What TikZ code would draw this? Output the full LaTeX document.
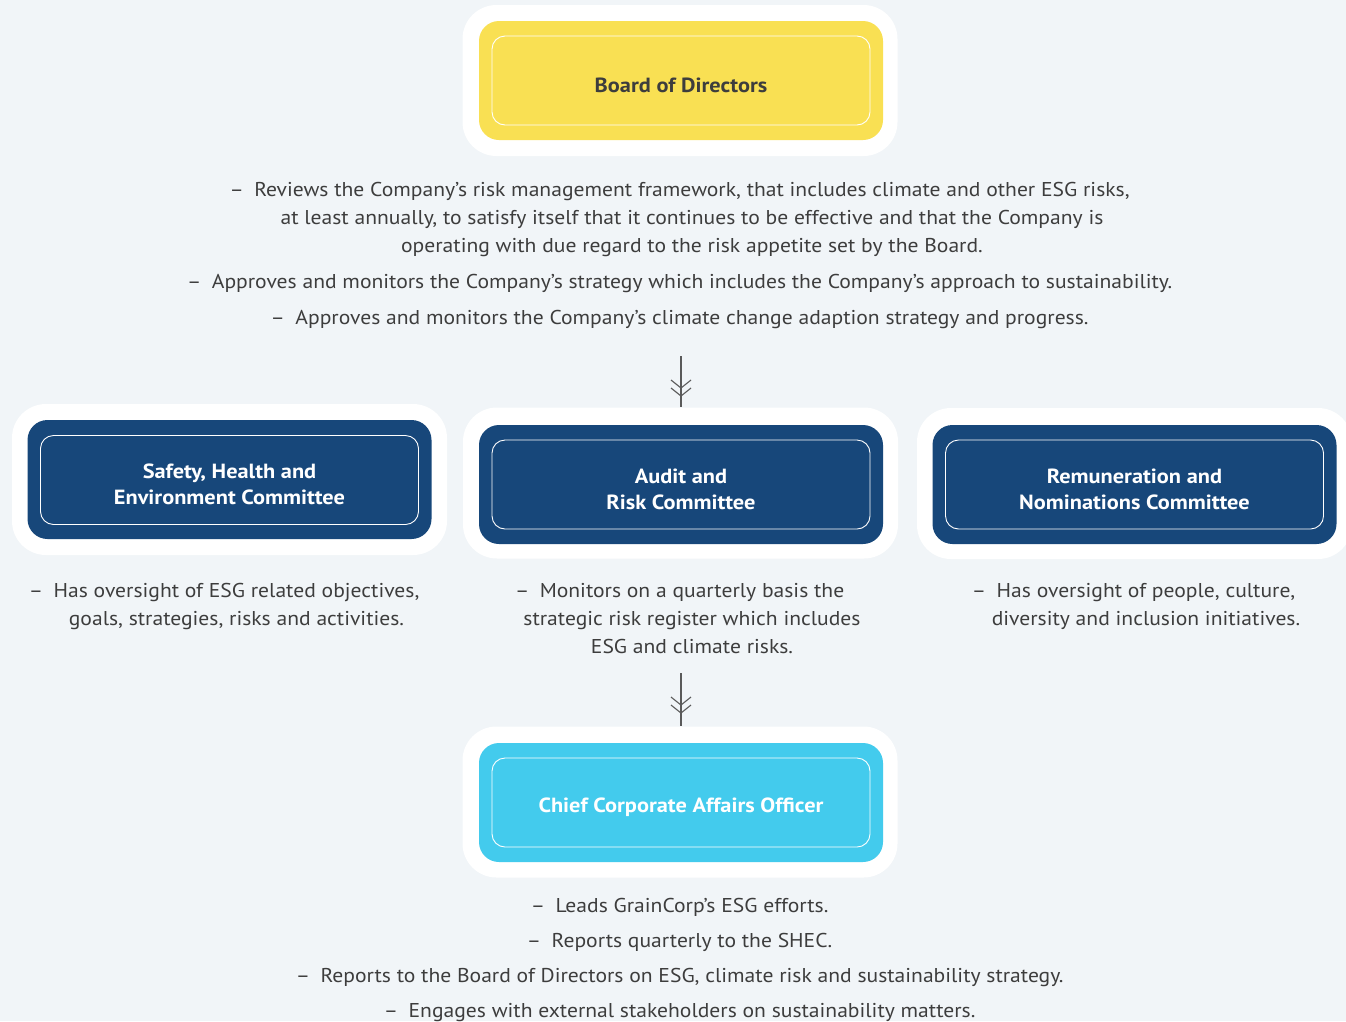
\documentclass[tikz,border=0pt]{standalone}
\usepackage{fontspec}
\setmainfont{PT Sans}[FakeStretch=1.08]
\newfontfamily\lblfont{PT Sans}[FakeStretch=1.09]
\definecolor{bgc}{HTML}{F1F5F8}
\definecolor{ylw}{HTML}{F9E053}
\definecolor{navy}{HTML}{17477A}
\definecolor{cyanb}{HTML}{43CBED}
\definecolor{txtc}{HTML}{3D3D3D}
\definecolor{linec}{HTML}{5A5A5A}
\newcommand{\dashlbl}{\llap{–\hspace{10.5pt}}}
\begin{document}
\begin{tikzpicture}[x=1pt,y=-1pt,
  frame/.style={fill=white, rounded corners=34pt, minimum width=435pt, minimum height=151pt, inner sep=0pt},
  boxfill/.style={rounded corners=20pt, minimum width=404pt, minimum height=119pt, inner sep=0pt},
  inner/.style={draw=white, line width=0.9pt, rounded corners=13pt, minimum width=378pt, minimum height=89pt, inner sep=0pt},
  lbl/.style={inner sep=0pt, align=center, font=\lblfont\bfseries\fontsize{20.5}{26}\selectfont},
  txt/.style={anchor=base, inner sep=0pt, text=txtc, font=\fontsize{20}{28}\selectfont},
  conn/.style={draw=linec, line width=1.2pt},
  chev/.style={draw=linec, line width=1.1pt}
]
\useasboundingbox (0,0) rectangle (1346,1021);
\fill[bgc] (0,0) rectangle (1346,1021);

% Board of Directors
\node[frame] (boardF) at (680,80.5) {};
\node[boxfill, fill=ylw] (board) at (681,80.5) {};
\node[inner] (boardIn) at (681,80.5) {};
\node[lbl, text=txtc] (boardL) at (681,85) {Board of Directors};

% Committees
\node[frame] (shecF) at (229.5,479.5) {};
\node[boxfill, fill=navy] (shec) at (229.5,479.5) {};
\node[inner] (shecIn) at (229.5,480) {};
\node[lbl, text=white] (shecL) at (229.5,484.5) {Safety, Health and\\Environment Committee};

\node[frame] (arcF) at (680.5,483) {};
\node[boxfill, fill=navy] (arc) at (681,484.5) {};
\node[inner] (arcIn) at (681,484.5) {};
\node[lbl, text=white] (arcL) at (681,489) {Audit and\\Risk Committee};

\node[frame] (rncF) at (1134.5,483.5) {};
\node[boxfill, fill=navy] (rnc) at (1134.5,484.5) {};
\node[inner] (rncIn) at (1134.5,484.5) {};
\node[lbl, text=white] (rncL) at (1134.5,489) {Remuneration and\\Nominations Committee};

% CCAO
\node[frame] (ccaoF) at (680,802) {};
\node[boxfill, fill=cyanb] (ccao) at (681,802.5) {};
\node[inner] (ccaoIn) at (681,802.5) {};
\node[lbl, text=white] (ccaoL) at (681,807) {Chief Corporate Affairs Officer};

% Board text
\node[txt] (b1) at (692,196) {\dashlbl Reviews the Company’s risk management framework, that includes climate and other ESG risks,};
\node[txt] (b2) at (692,224) {at least annually, to satisfy itself that it continues to be effective and that the Company is};
\node[txt] (b3) at (692,252) {operating with due regard to the risk appetite set by the Board.};
\node[txt] (b4) at (692,288) {\dashlbl Approves and monitors the Company’s strategy which includes the Company’s approach to sustainability.};
\node[txt] (b5) at (692,324) {\dashlbl Approves and monitors the Company’s climate change adaption strategy and progress.};

% Committee texts
\node[txt] (s1) at (236.5,597) {\dashlbl Has oversight of ESG related objectives,};
\node[txt] (s2) at (236.5,625) {goals, strategies, risks and activities.};
\node[txt] (a1) at (692,597) {\dashlbl Monitors on a quarterly basis the};
\node[txt] (a2) at (692,625) {strategic risk register which includes};
\node[txt] (a3) at (692,653) {ESG and climate risks.};
\node[txt] (r1) at (1146,597) {\dashlbl Has oversight of people, culture,};
\node[txt] (r2) at (1146,625) {diversity and inclusion initiatives.};

% CCAO texts
\node[txt] (c1) at (692,912) {\dashlbl Leads GrainCorp’s ESG efforts.};
\node[txt] (c2) at (692,947) {\dashlbl Reports quarterly to the SHEC.};
\node[txt] (c3) at (692,982) {\dashlbl Reports to the Board of Directors on ESG, climate risk and sustainability strategy.};
\node[txt] (c4) at (692,1017) {\dashlbl Engages with external stakeholders on sustainability matters.};

% Connectors
\coordinate (a1s) at (681,356);
\draw[conn] (a1s) -- (a1s |- arcF.north);
\draw[chev] ([shift={(-10,24)}]a1s) -- ++(10,8) -- ++(10,-8);
\draw[chev] ([shift={(-10,32)}]a1s) -- ++(10,8) -- ++(10,-8);

\coordinate (a2s) at (681,673);
\draw[conn] (a2s) -- (a2s |- ccaoF.north);
\draw[chev] ([shift={(-10,24)}]a2s) -- ++(10,8) -- ++(10,-8);
\draw[chev] ([shift={(-10,32)}]a2s) -- ++(10,8) -- ++(10,-8);
\end{tikzpicture}
\end{document}
